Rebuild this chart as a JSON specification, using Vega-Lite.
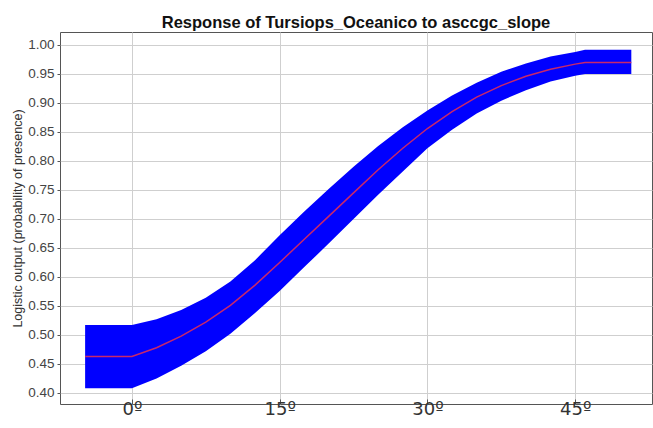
{
  "$schema": "https://vega.github.io/schema/vega-lite/v6.json",
  "autosize": {"type": "none"},
  "padding": {"left": 60, "top": 32, "right": 1, "bottom": 24},
  "width": 592,
  "height": 372,
  "background": "white",
  "title": {"text": "Response of Tursiops_Oceanico to asccgc_slope", "font": "Liberation Sans", "fontSize": 16.5, "fontWeight": "bold", "color": "#111111", "anchor": "middle", "offset": 1},
  "config": {
    "view": {"stroke": "#555555", "strokeWidth": 1},
    "axis": {"gridColor": "#cfcfcf", "gridWidth": 1, "domain": false, "tickColor": "#555555", "labelOverlap": false}
  },
  "data": {"values": [
    {"x": -4.75, "lo": 0.408, "hi": 0.517, "mean": 0.463},
    {"x": 0, "lo": 0.408, "hi": 0.517, "mean": 0.463},
    {"x": 2.5, "lo": 0.425, "hi": 0.527, "mean": 0.478},
    {"x": 5, "lo": 0.447, "hi": 0.543, "mean": 0.498},
    {"x": 7.5, "lo": 0.472, "hi": 0.564, "mean": 0.522},
    {"x": 10, "lo": 0.502, "hi": 0.592, "mean": 0.551},
    {"x": 12.5, "lo": 0.538, "hi": 0.629, "mean": 0.586},
    {"x": 15, "lo": 0.576, "hi": 0.672, "mean": 0.625},
    {"x": 17.5, "lo": 0.617, "hi": 0.713, "mean": 0.665},
    {"x": 20, "lo": 0.658, "hi": 0.752, "mean": 0.705},
    {"x": 22.5, "lo": 0.700, "hi": 0.790, "mean": 0.745},
    {"x": 25, "lo": 0.742, "hi": 0.826, "mean": 0.785},
    {"x": 27.5, "lo": 0.782, "hi": 0.858, "mean": 0.822},
    {"x": 30, "lo": 0.822, "hi": 0.887, "mean": 0.856},
    {"x": 32.5, "lo": 0.854, "hi": 0.913, "mean": 0.885},
    {"x": 35, "lo": 0.882, "hi": 0.935, "mean": 0.910},
    {"x": 37.5, "lo": 0.904, "hi": 0.954, "mean": 0.930},
    {"x": 40, "lo": 0.922, "hi": 0.968, "mean": 0.946},
    {"x": 42.5, "lo": 0.937, "hi": 0.980, "mean": 0.958},
    {"x": 45, "lo": 0.947, "hi": 0.988, "mean": 0.967},
    {"x": 46, "lo": 0.950, "hi": 0.992, "mean": 0.970},
    {"x": 50.7, "lo": 0.950, "hi": 0.992, "mean": 0.970}
  ]},
  "encoding": {
    "x": {"field": "x", "type": "quantitative",
      "scale": {"domain": [-7.3, 52.8], "nice": false, "zero": false},
      "axis": {"values": [0, 15, 30, 45], "title": null, "labelExpr": "datum.value + 'º'", "labelFont": "DejaVu Sans", "labelFontSize": 18, "labelColor": "#333333", "labelPadding": 1, "tickSize": -5, "grid": true}
    }
  },
  "layer": [
    {
      "mark": {"type": "area", "color": "#0000ff", "opacity": 1},
      "encoding": {
        "y": {"field": "lo", "type": "quantitative",
          "scale": {"domain": [0.381, 1.0224], "nice": false, "zero": false},
          "axis": {"values": [0.4, 0.45, 0.5, 0.55, 0.6, 0.65, 0.7, 0.75, 0.8, 0.85, 0.9, 0.95, 1.0], "format": ".2f", "title": "Logistic output (probability of presence)", "titleFont": "Liberation Sans", "titleFontSize": 12.5, "titleFontWeight": "normal", "titleColor": "#333333", "titlePadding": 3, "labelFont": "Liberation Sans", "labelFontSize": 13.5, "labelColor": "#444444", "tickSize": 3, "labelPadding": 3, "grid": true}
        },
        "y2": {"field": "hi"}
      }
    },
    {
      "mark": {"type": "line", "color": "#c8286a", "strokeWidth": 1.5},
      "encoding": {
        "y": {"field": "mean", "type": "quantitative",
          "scale": {"domain": [0.381, 1.0224], "nice": false, "zero": false},
          "axis": {"values": [0.4, 0.45, 0.5, 0.55, 0.6, 0.65, 0.7, 0.75, 0.8, 0.85, 0.9, 0.95, 1.0], "format": ".2f", "title": "Logistic output (probability of presence)", "titleFont": "Liberation Sans", "titleFontSize": 12.5, "titleFontWeight": "normal", "titleColor": "#333333", "titlePadding": 3, "labelFont": "Liberation Sans", "labelFontSize": 13.5, "labelColor": "#444444", "tickSize": 3, "labelPadding": 3, "grid": true}
        }
      }
    }
  ]
}
